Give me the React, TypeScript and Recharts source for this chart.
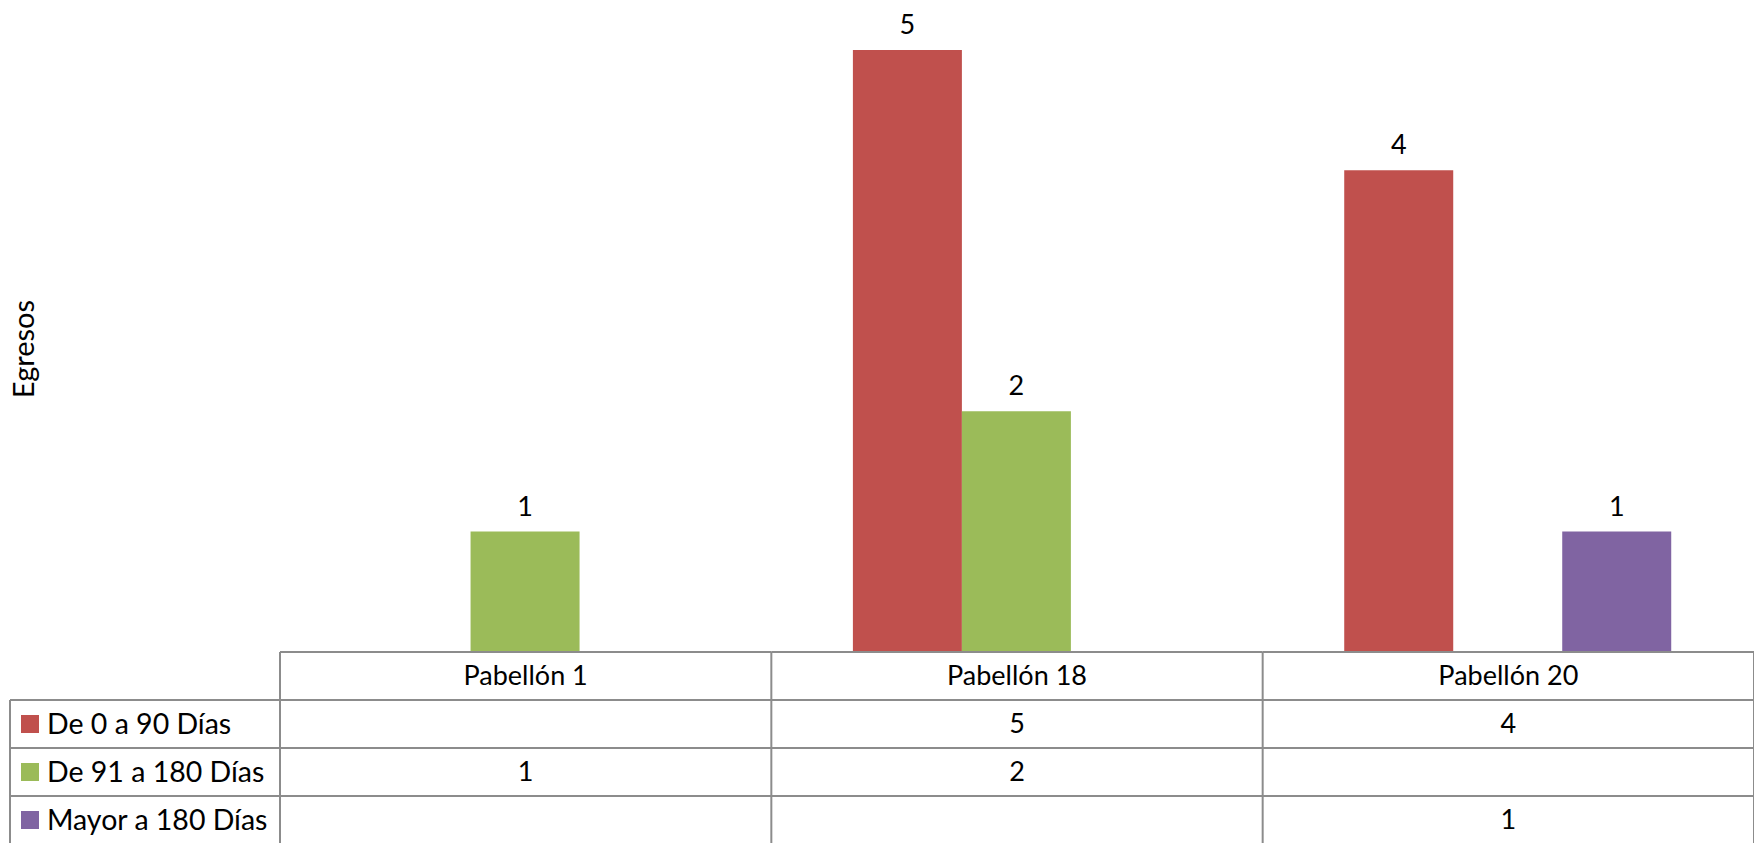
import React from 'react';
import { BarChart, Bar, XAxis, YAxis, LabelList } from 'recharts';

const categories = ['Pabellón 1', 'Pabellón 18', 'Pabellón 20'];
const seriesNames = ['De 0 a 90 Días', 'De 91 a 180 Días', 'Mayor a 180 Días'];
const de0a90: (number | null)[] = [null, 5, 4];
const de91a180: (number | null)[] = [1, 2, null];
const mayor180: (number | null)[] = [null, null, 1];

const colors = ['#C0504D', '#9BBB59', '#8064A2'];
const keys = ['a', 'b', 'c'];
const seriesValues = [de0a90, de91a180, mayor180];

const data = categories.map((name, i) => ({ name, a: de0a90[i], b: de91a180[i], c: mayor180[i] }));

const W = 1754;
const H = 843;
const PLOT_LEFT = 280;
const AXIS_H = 191;
const BASE_Y = H - AXIS_H;
const ROW_H = 48;
const LEGEND_LEFT = 10;
const BORDER = '#8c8c8c';
const FONT = 'Lato, "Open Sans", sans-serif';
const FS = 27;

const TableTick = (props: any) => {
  const { x, payload } = props;
  const i = payload.index;
  const colW = (W - PLOT_LEFT) / categories.length;
  const left = x - colW / 2;
  const right = x + colW / 2;
  const y0 = BASE_Y;
  return (
    <g>
      {[0, 1, 2, 3].map(r => (
        <line key={`h${r}`} x1={left} x2={right} y1={y0 + r * ROW_H} y2={y0 + r * ROW_H} stroke={BORDER} strokeWidth={2} />
      ))}
      <line x1={right} x2={right} y1={y0} y2={H} stroke={BORDER} strokeWidth={2} />
      <text x={x} y={y0 + ROW_H / 2} dy="0.35em" textAnchor="middle" fontSize={FS} fontFamily={FONT} fill="#000">{payload.value}</text>
      {seriesValues.map((vals, r) => vals[i] == null ? null : (
        <text key={`v${r}`} x={x} y={y0 + (r + 1) * ROW_H + ROW_H / 2} dy="0.35em" textAnchor="middle" fontSize={FS} fontFamily={FONT} fill="#000">{vals[i]}</text>
      ))}
      {i === 0 && (
        <g>
          <line x1={left} x2={left} y1={y0} y2={H} stroke={BORDER} strokeWidth={2} />
          <line x1={LEGEND_LEFT} x2={LEGEND_LEFT} y1={y0 + ROW_H} y2={H} stroke={BORDER} strokeWidth={2} />
          {[1, 2, 3].map(r => (
            <line key={`lh${r}`} x1={LEGEND_LEFT} x2={left} y1={y0 + r * ROW_H} y2={y0 + r * ROW_H} stroke={BORDER} strokeWidth={2} />
          ))}
          {seriesNames.map((s, r) => (
            <g key={s}>
              <rect x={21} y={y0 + (r + 1) * ROW_H + ROW_H / 2 - 9} width={18} height={18} fill={colors[r]} />
              <text x={47} y={y0 + (r + 1) * ROW_H + ROW_H / 2} dy="0.35em" fontSize={28.5} fontFamily={FONT} fill="#000">{s}</text>
            </g>
          ))}
        </g>
      )}
    </g>
  );
};

const AxisTitle = () => (
  <text x={24} y={349} transform="rotate(-90 24 349)" dy="0.35em" textAnchor="middle" fontSize={29} fontFamily={FONT} fill="#000">Egresos</text>
);

export default function App() {
  return (
    <div style={{ position: 'absolute', left: 0, top: 0, width: W, height: H, background: '#fff' }}>
      <BarChart width={W} height={H} data={data} margin={{ top: 0, right: 0, bottom: 0, left: 0 }} barCategoryGap="16.6%" barGap={0}>
        <XAxis dataKey="name" height={AXIS_H} axisLine={false} tickLine={false} tickSize={0} tick={<TableTick />} interval={0} />
        <YAxis width={PLOT_LEFT} domain={[0, 5.415]} axisLine={false} tickLine={false} tick={false}
          label={{ content: <AxisTitle /> }} />
        {keys.map((k, idx) => (
          <Bar key={k} dataKey={k} name={seriesNames[idx]} fill={colors[idx]} isAnimationActive={false}>
            <LabelList dataKey={k} position="top" offset={16} style={{ fontSize: FS, fontFamily: FONT, fill: '#000' }} />
          </Bar>
        ))}
      </BarChart>
    </div>
  );
}
